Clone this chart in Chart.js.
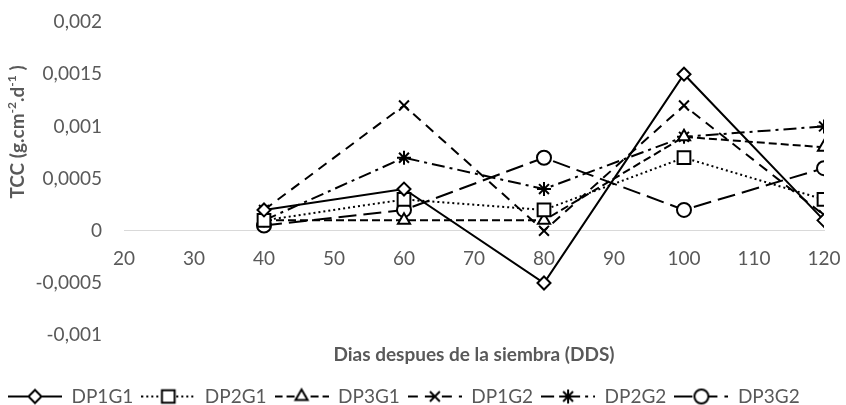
<!DOCTYPE html>
<html>
<head>
<meta charset="utf-8">
<script src="https://cdn.jsdelivr.net/npm/chart.js@4.4.1/dist/chart.umd.min.js"></script>
<style>
  html, body { margin: 0; padding: 0; background: #fff; }
  #wrap { width: 846px; height: 405px; }
</style>
</head>
<body>
<div id="wrap"><canvas id="chart"></canvas></div>
<script>
const DAYS = [40, 60, 80, 100, 120];
const X_TICKS = [20, 30, 40, 50, 60, 70, 80, 90, 100, 110, 120];
const Y_TICKS = [-0.001, -0.0005, 0, 0.0005, 0.001, 0.0015, 0.002];

const SERIES_NAMES = ["DP1G1", "DP2G1", "DP3G1", "DP1G2", "DP2G2", "DP3G2"];
const DP1G1 = [0.0002, 0.0004, -0.0005, 0.0015, 0.0001];
const DP2G1 = [0.0001, 0.0003, 0.0002, 0.0007, 0.0003];
const DP3G1 = [0.0001, 0.0001, 0.0001, 0.0009, 0.0008];
const DP1G2 = [0.0002, 0.0012, 0.0, 0.0012, 0.00015];
const DP2G2 = [0.0001, 0.0007, 0.0004, 0.0009, 0.001];
const DP3G2 = [0.00005, 0.0002, 0.0007, 0.0002, 0.0006];

const X_TITLE = "Dias despues de la siembra (DDS)";
const Y_TITLE = [["TCC (g.cm", false], ["-2", true], [".d", false], ["-1", true], [" )", false]];

const TEXT = "#595959";
const FONT = "Lato";

// line look for each series (same order as SERIES_NAMES)
const STYLES = [
	{ dash: [], point: "rectRot", r: 6.5 },
	{ dash: [2, 3], point: "rect", r: 9 },
	{ dash: [8, 4], point: "triangle", r: 7 },
	{ dash: [10, 7], point: "crossRot", r: 7 },
	{ dash: [13, 5, 3, 5], point: "star", r: 7 },
	{ dash: [18, 7], point: "circle", r: 7 },
];

const values = [DP1G1, DP2G1, DP3G1, DP1G2, DP2G2, DP3G2];

// small legend pictures: a piece of the line with the marker in the middle
const makeIcon = (style) => {
	const c = document.createElement("canvas");
	c.width = 54;
	c.height = 20;
	const g = c.getContext("2d");
	g.strokeStyle = "#000";
	g.lineWidth = 2;
	g.setLineDash(style.dash);
	g.beginPath();
	g.moveTo(0, 10);
	g.lineTo(54, 10);
	g.stroke();
	g.setLineDash([]);
	g.fillStyle = "#fff";
	Chart.helpers.drawPoint(g, { pointStyle: style.point, radius: style.r, rotation: 0, borderWidth: 2 }, 27, 10);
	return c;
};
const icons = STYLES.map(makeIcon);

const datasets = SERIES_NAMES.map((name, i) => ({
	label: name,
	data: DAYS.map((d, j) => ({ x: d, y: values[i][j] })),
	borderColor: "#000",
	backgroundColor: "#fff",
	borderWidth: 2,
	borderDash: STYLES[i].dash,
	pointStyle: STYLES[i].point,
	pointRadius: STYLES[i].r,
	pointBorderWidth: 2,
	pointBackgroundColor: "#fff",
	pointBorderColor: "#000",
	tension: 0,
}));

const fmt = (v) => Number(v.toFixed(4)).toString().replace(".", ",");

const yTitlePlugin = {
	id: "yTitle",
	afterDraw(chart) {
		const { ctx, chartArea } = chart;
		const big = "bold 19px " + FONT;
		const small = "bold 12px " + FONT;
		let total = 0;
		Y_TITLE.forEach(([t, sup]) => {
			ctx.font = sup ? small : big;
			total += ctx.measureText(t).width;
		});
		ctx.save();
		ctx.translate(18, chartArea.top + 110);
		ctx.rotate(-Math.PI / 2);
		ctx.fillStyle = TEXT;
		ctx.textBaseline = "middle";
		let x = -total / 2;
		Y_TITLE.forEach(([t, sup]) => {
			ctx.font = sup ? small : big;
			ctx.fillText(t, x, sup ? -6 : 0);
			x += ctx.measureText(t).width;
		});
		ctx.restore();
	},
};

Chart.defaults.font.family = FONT;
Chart.defaults.font.size = 19;
Chart.defaults.color = TEXT;

new Chart(document.getElementById("chart"), {
	type: "line",
	data: { datasets },
	options: {
		responsive: true,
		maintainAspectRatio: false,
		animation: false,
		layout: { padding: { left: 0, right: 22, top: 22, bottom: -11 } },
		scales: {
			x: {
				type: "linear",
				position: { y: 0 },
				min: X_TICKS[0],
				max: X_TICKS[X_TICKS.length - 1],
				afterBuildTicks: (s) => { s.ticks = X_TICKS.map((v) => ({ value: v })); },
				afterFit: (s) => { s.paddingLeft = 0; s.paddingRight = 0; },
				grid: { display: false, drawTicks: false },
				border: { display: true, color: "#d9d9d9", width: 1 },
				ticks: { padding: 17, color: TEXT, maxRotation: 0 },
			},
			y: {
				min: Y_TICKS[0],
				max: Y_TICKS[Y_TICKS.length - 1],
				afterBuildTicks: (s) => { s.ticks = Y_TICKS.map((v) => ({ value: v })); },
				afterFit: (s) => { s.width = 124; s.paddingTop = 0; s.paddingBottom = 0; },
				grid: { display: false, drawTicks: false },
				border: { display: false },
				ticks: { padding: 22, color: TEXT, callback: (v) => fmt(v) },
			},
		},
		plugins: {
			title: {
				display: true,
				text: X_TITLE,
				position: "bottom",
				fullSize: false,
				weight: 500,
				color: TEXT,
				font: { size: 19, weight: "bold" },
				padding: { top: 8, bottom: 13 },
			},
			legend: {
				position: "bottom",
				align: "start",
				labels: {
					usePointStyle: true,
					pointStyleWidth: 54,
					padding: 8,
					color: TEXT,
					font: { size: 19 },
					generateLabels: (chart) =>
						Chart.defaults.plugins.legend.labels.generateLabels(chart).map((item, i) => ({
							...item,
							pointStyle: icons[i],
						})),
				},
			},
			tooltip: { enabled: false },
		},
	},
	plugins: [yTitlePlugin],
});
</script>
</body>
</html>
